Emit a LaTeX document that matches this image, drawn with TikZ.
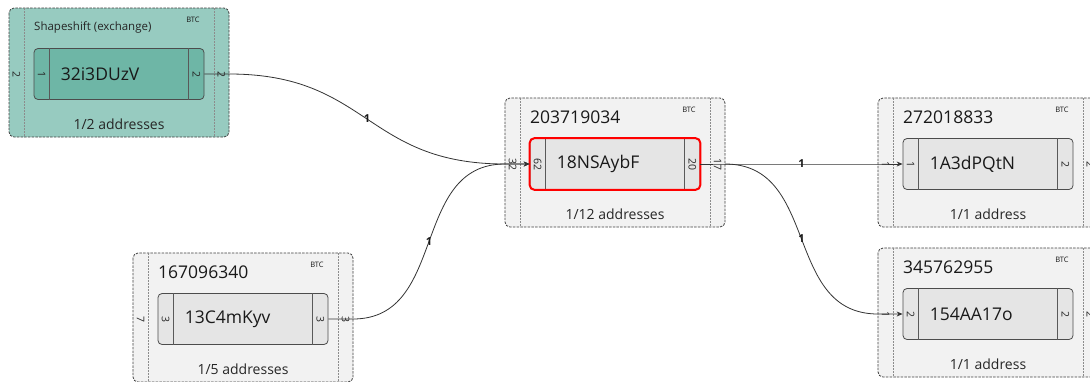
\documentclass[tikz,border=0pt]{standalone}
\usepackage{fontspec}
\setmainfont{Open Sans}
\usetikzlibrary{arrows.meta}

\definecolor{graygrp}{HTML}{F2F2F2}
\definecolor{graybox}{HTML}{E5E5E5}
\definecolor{tealgrp}{HTML}{97CBC0}
\definecolor{tealbox}{HTML}{6EB6A6}

\tikzset{
  grp/.style={draw=black!75, line width=0.8pt, dash pattern=on 2.5pt off 1.2pt, rounded corners=5pt},
  strip/.style={draw=black!45, dash pattern=on 2pt off 1pt},
  addr/.style={draw=black!70, line width=0.8pt, rounded corners=4pt, minimum width=170pt, minimum height=51pt, inner sep=0pt},
  cell/.style={draw=black!65, line width=0.7pt},
  addrtext/.style={anchor=west, inner sep=0pt, text=black!90, font=\fontsize{17.5}{20}\selectfont},
  title/.style={anchor=west, inner sep=0pt, text=black!90, font=\fontsize{17.5}{20}\selectfont},
  smalltitle/.style={anchor=west, inner sep=0pt, text=black!85, font=\fontsize{11.5}{13}\selectfont},
  foot/.style={inner sep=0pt, text=black!85, font=\fontsize{14}{16}\selectfont},
  btc/.style={inner sep=0pt, text=black!90, font=\fontsize{7.5}{9}\selectfont},
  num/.style={inner sep=0pt, rotate=-90, text=black!85, font=\fontsize{10.5}{12}\selectfont},
  edge/.style={draw=black!80, line width=0.8pt, -{Stealth[length=6pt,width=5pt]}},
  elbl/.style={inner sep=0pt, text=black!90, font=\bfseries\fontsize{11}{13}\selectfont},
  sel/.style={draw=red, line width=2pt, rounded corners=5pt}
}

% #1 name, #2 top left, #3 colour prefix, #4 title style, #5 title, #6 address, #7 footer
\newcommand{\cluster}[7]{
  \begin{scope}[shift={#2}]
    \draw[grp, fill=#3grp] (0,0) rectangle (220,129);
    \draw[strip] (15,0) -- (15,129) (205,0) -- (205,129);
    \node[addr, fill=#3box] (#1) at (110,66) {};
    \draw[cell] ([xshift=16pt]#1.north west) -- ([xshift=16pt]#1.south west)
                ([xshift=-16pt]#1.north east) -- ([xshift=-16pt]#1.south east);
    \node[addrtext] (#1t) at ([xshift=27pt]#1.west) {#6};
    \node[#4] (#1h) at (25,19) {#5};
    \node[btc] (#1c) at (184,12) {BTC};
    \node[foot] (#1f) at (110,116) {#7};
    \coordinate (#1in) at (0,66);
    \coordinate (#1out) at (220,66);
  \end{scope}
}

% #1 name, then strip / cell / cell / strip counts
\newcommand{\counts}[5]{
  \node[num] (#1sl) at ([xshift=7.5pt]#1in) {#2};
  \node[num] (#1cl) at ([xshift=8pt]#1.west) {#3};
  \node[num] (#1cr) at ([xshift=-8pt]#1.east) {#4};
  \node[num] (#1sr) at ([xshift=-7.5pt]#1out) {#5};
}

\begin{document}
\begin{tikzpicture}[x=1pt, y=-1pt]
  \useasboundingbox (0,0) rectangle (1090,381);
  \fill[white] (0,0) rectangle (1090,381);
  \clip (0,0) rectangle (1090,381);

  \cluster{sh}{(9,8)}{teal}{smalltitle}{Shapeshift (exchange)}{32i3DUzV}{1/2 addresses}
  \cluster{ns}{(505,98)}{gray}{title}{203719034}{18NSAybF}{1/12 addresses}
  \cluster{cm}{(133,253)}{gray}{title}{167096340}{13C4mKyv}{1/5 addresses}
  \cluster{dp}{(878,98)}{gray}{title}{272018833}{1A3dPQtN}{1/1 address}
  \cluster{aa}{(878,248)}{gray}{title}{345762955}{154AA17o}{1/1 address}

  \counts{sh}{2}{1}{2}{2}
  \counts{ns}{32}{62}{20}{17}
  \counts{cm}{7}{3}{3}{3}
  \counts{dp}{1}{1}{2}{2}
  \counts{aa}{1}{2}{2}{2}

  \draw[sel] (ns.south west) rectangle (ns.north east);

  % flows
  \draw[edge] (sh.east) -- (shout) .. controls +(140,0) and +(-140,0) .. node[elbl] {1} (nsin) -- (ns.west);
  \draw[edge] (cm.east) -- (cmout) .. controls +(95,0) and +(-95,0) .. node[elbl] {1} (nsin) -- (ns.west);
  \draw[edge] (ns.east) -- (nsout) -- node[elbl] {1} (dpin) -- (dp.west);
  \draw[edge] (nsout) .. controls +(95,0) and +(-95,0) .. node[elbl] {1} (aain) -- (aa.west);
\end{tikzpicture}
\end{document}
